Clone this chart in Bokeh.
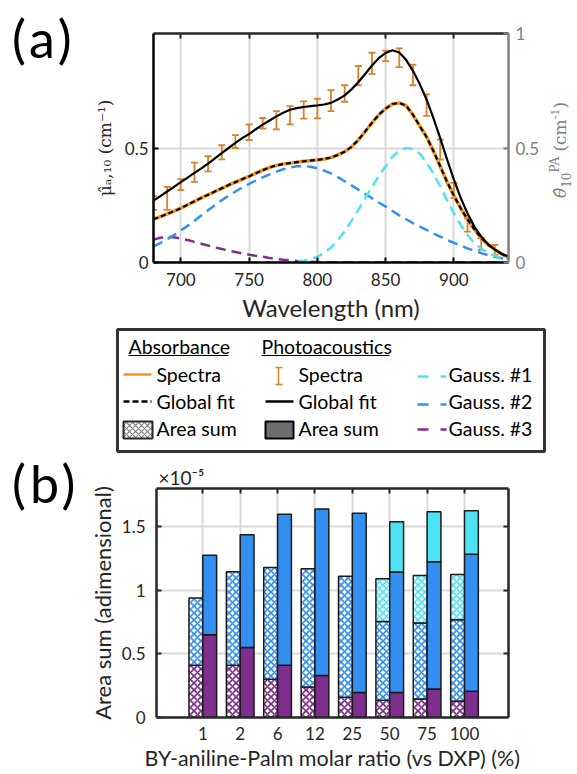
import numpy as np
from bokeh.plotting import figure
from bokeh.models import (Range1d, LinearAxis, FixedTicker, Whisker, ColumnDataSource, TeeHead,
                          Div, Title)
from bokeh.layouts import column, row
from bokeh.embed import file_html
from bokeh.resources import INLINE
from bokeh.core.properties import value

# ---------------- panel (a) data ----------------
wavelength = list(range(680, 945, 5))  # nm
pa_global_fit = [0.270, 0.290, 0.310, 0.330, 0.351, 0.371, 0.391, 0.411, 0.432, 0.455,
                 0.478, 0.500, 0.522, 0.543, 0.561, 0.582, 0.602, 0.620, 0.638, 0.654,
                 0.667, 0.674, 0.679, 0.683, 0.686, 0.690, 0.697, 0.712, 0.730, 0.756,
                 0.787, 0.823, 0.860, 0.892, 0.915, 0.927, 0.917, 0.885, 0.837, 0.779,
                 0.712, 0.630, 0.543, 0.450, 0.362, 0.282, 0.214, 0.157, 0.113, 0.080,
                 0.056, 0.038, 0.026]
abs_spectra = [0.189, 0.200, 0.212, 0.224, 0.237, 0.252, 0.267, 0.282, 0.296, 0.310,
               0.324, 0.338, 0.351, 0.364, 0.376, 0.390, 0.403, 0.415, 0.424, 0.430,
               0.434, 0.438, 0.442, 0.445, 0.448, 0.452, 0.458, 0.470, 0.484, 0.505,
               0.535, 0.572, 0.610, 0.645, 0.672, 0.692, 0.697, 0.685, 0.645, 0.596,
               0.548, 0.487, 0.420, 0.352, 0.292, 0.237, 0.188, 0.145, 0.108, 0.078,
               0.056, 0.037, 0.022]
abs_global_fit = list(abs_spectra)  # the fit overlays the spectrum within the line width
gauss1 = [0.0, 0.0, 0.0, 0.0, 0.0, 0.0, 0.0, 0.0, 0.0, 0.0,
          0.0, 0.0, 0.0, 0.0, 0.0, 0.0, 0.0, 0.0, 0.0, 0.001,
          0.002, 0.004, 0.008, 0.014, 0.025, 0.042, 0.065, 0.097, 0.136, 0.182,
          0.230, 0.280, 0.330, 0.378, 0.420, 0.462, 0.488, 0.500, 0.496, 0.476,
          0.437, 0.389, 0.332, 0.272, 0.215, 0.164, 0.120, 0.085, 0.060, 0.043,
          0.030, 0.020, 0.013]
gauss2 = [0.070, 0.085, 0.102, 0.120, 0.140, 0.160, 0.182, 0.205, 0.228, 0.250,
          0.272, 0.292, 0.310, 0.327, 0.343, 0.358, 0.372, 0.385, 0.397, 0.407,
          0.415, 0.420, 0.421, 0.418, 0.411, 0.401, 0.389, 0.373, 0.355, 0.337,
          0.318, 0.299, 0.281, 0.262, 0.244, 0.225, 0.206, 0.189, 0.172, 0.157,
          0.142, 0.127, 0.113, 0.098, 0.086, 0.074, 0.062, 0.051, 0.041, 0.032,
          0.025, 0.019, 0.014]
gauss3 = [0.100, 0.108, 0.112, 0.110, 0.105, 0.098, 0.090, 0.082, 0.074, 0.066,
          0.059, 0.052, 0.046, 0.040, 0.034, 0.029, 0.025, 0.020, 0.016, 0.012,
          0.009, 0.007, 0.005, 0.003, 0.002, 0.0, 0.0, 0.0, 0.0, 0.0,
          0.0, 0.0, 0.0, 0.0, 0.0, 0.0, 0.0, 0.0, 0.0, 0.0,
          0.0, 0.0, 0.0, 0.0, 0.0, 0.0, 0.0, 0.0, 0.0, 0.0,
          0.0, 0.0, 0.0]
pa_wavelength = list(range(680, 940, 10))
pa_mean = [0.260, 0.280, 0.340, 0.394, 0.431, 0.481, 0.528, 0.569, 0.608, 0.621,
           0.643, 0.666, 0.672, 0.707, 0.738, 0.816, 0.870, 0.902, 0.894, 0.819,
           0.687, 0.493, 0.315, 0.164, 0.081, 0.055]
pa_err = [0.030, 0.050, 0.024, 0.042, 0.033, 0.031, 0.028, 0.034, 0.023, 0.040,
          0.040, 0.038, 0.043, 0.046, 0.036, 0.042, 0.046, 0.023, 0.041, 0.045,
          0.047, 0.044, 0.033, 0.029, 0.026, 0.022]
x_ticks_a = [700, 750, 800, 850, 900]

# ---------------- panel (b) data (units of 1e-5) ----------------
ratios = ["1", "2", "6", "12", "25", "50", "75", "100"]
abs_g3 = [0.41, 0.41, 0.30, 0.24, 0.16, 0.135, 0.145, 0.13]
abs_g2 = [0.53, 0.735, 0.88, 0.93, 0.95, 0.62, 0.597, 0.638]
abs_g1 = [0.0, 0.0, 0.0, 0.0, 0.0, 0.335, 0.374, 0.356]
pa_g3 = [0.65, 0.55, 0.41, 0.33, 0.196, 0.196, 0.224, 0.206]
pa_g2 = [0.625, 0.886, 1.187, 1.309, 1.409, 0.947, 1.001, 1.077]
pa_g1 = [0.0, 0.0, 0.0, 0.0, 0.0, 0.396, 0.393, 0.342]

# ---------------- styles ----------------
C_ORANGE = "#F7931E"
C_ERR = "#D9822B"
C_CYAN = "#4DE3F5"
C_BLUE = "#3390F0"
C_PURPLE = "#7E2F8E"
C_DARK = "#262626"
C_GREY = "#808080"
C_GRID = "#D9D9D9"
FONT = "Lato"
TICK_FS = "17px"
DIV_L = 85
DIV_R = 35
FIG_W = 577 - DIV_L - DIV_R


def style_axis(ax, color, label_color=None, show_labels=True, standoff=5):
    ax.axis_line_color = color
    ax.axis_line_width = 2.5
    ax.major_tick_line_color = color
    ax.major_tick_line_width = 2
    ax.major_tick_in = 5
    ax.major_tick_out = 0
    ax.minor_tick_line_color = None
    ax.major_label_text_font = FONT
    if show_labels:
        ax.major_label_text_font_size = TICK_FS
        ax.major_label_text_color = label_color or C_DARK
        ax.major_label_standoff = standoff
    else:
        ax.major_label_text_font_size = "1px"
        ax.major_label_text_color = None
        ax.major_label_standoff = 0
    ax.axis_label_text_font = FONT
    ax.axis_label_text_font_style = "normal"
    ax.axis_label_text_color = C_DARK


def panel_div(txt, h, pad_top):
    return Div(text=('<div style="font-family:Lato,sans-serif;font-size:52px;line-height:52px;'
                     'letter-spacing:4px;color:#000;padding:%dpx 0 0 12px;margin:0;">%s</div>'
                     % (pad_top, txt)),
               width=DIV_L, height=h, margin=(0, 0, 0, 0))


def side_div(h, html=""):
    return Div(text=('<div style="position:relative;width:%dpx;height:%dpx;margin:0;padding:0;">%s</div>'
                     % (DIV_R, h, html)),
               width=DIV_R, height=h, margin=(0, 0, 0, 0))


# ---------------- panel (a) ----------------
p1 = figure(width=FIG_W, height=326, x_range=Range1d(680, 940), y_range=Range1d(0, 1),
            output_backend="svg", toolbar_location=None, title=None,
            min_border_left=68, min_border_right=34, min_border_top=33, min_border_bottom=64)
p1.extra_y_ranges = {"pa": Range1d(0, 1)}
p1.outline_line_color = None
p1.xgrid.ticker = FixedTicker(ticks=x_ticks_a)
p1.ygrid.ticker = FixedTicker(ticks=[0.5])
p1.grid.grid_line_color = C_GRID
p1.grid.grid_line_width = 2

xb = p1.below[0]
xb.ticker = FixedTicker(ticks=x_ticks_a)
style_axis(xb, "black", standoff=10)
xb.axis_label = "Wavelength (nm)"
xb.axis_label_text_font_size = "24px"
xb.axis_label_standoff = 4

yl = p1.left[0]
yl.ticker = FixedTicker(ticks=[0, 0.5])
yl.major_label_overrides = {0: "0", 0.5: "0.5"}
style_axis(yl, "black", standoff=5)
yl.axis_label = "μ̂ₐ,₁₀ (cm⁻¹)"
yl.axis_label_text_font = "DejaVu Serif"
yl.axis_label_text_font_size = "17px"
yl.axis_label_standoff = 7

top_a = LinearAxis(ticker=FixedTicker(ticks=x_ticks_a))
style_axis(top_a, C_DARK, show_labels=False)
p1.add_layout(top_a, "above")

yr = LinearAxis(y_range_name="pa", ticker=FixedTicker(ticks=[0, 0.5, 1]))
yr.major_label_overrides = {0: "0", 0.5: "0.5", 1: "1"}
style_axis(yr, C_GREY, label_color=C_GREY, standoff=7)
p1.add_layout(yr, "right")

# Gaussian components
p1.line(wavelength, gauss3, line_color=C_PURPLE, line_width=2.5, line_dash="10 6")
p1.line(wavelength, gauss2, line_color=C_BLUE, line_width=2.5, line_dash="10 6")
p1.line(wavelength, gauss1, line_color=C_CYAN, line_width=2.5, line_dash="10 6")
# absorbance spectrum + global fit
p1.line(wavelength, abs_spectra, line_color=C_ORANGE, line_width=3.5)
p1.line(wavelength, abs_global_fit, line_color="black", line_width=2.2, line_dash="5 3")
# photoacoustic spectrum with error bars + global fit
src_pa = ColumnDataSource(dict(x=pa_wavelength,
                               upper=[m + e for m, e in zip(pa_mean, pa_err)],
                               lower=[m - e for m, e in zip(pa_mean, pa_err)]))
wh = Whisker(source=src_pa, base="x", upper="upper", lower="lower", y_range_name="pa",
             line_color=C_ERR, line_width=1.8,
             upper_head=TeeHead(size=7, line_color=C_ERR, line_width=1.8),
             lower_head=TeeHead(size=7, line_color=C_ERR, line_width=1.8))
p1.add_layout(wh)
p1.line(wavelength, pa_global_fit, line_color="black", line_width=2.2, y_range_name="pa")

right_label_html = (
    '<div style="position:absolute;left:19px;top:150px;'
    'transform:translate(-50%,-50%) rotate(-90deg);white-space:nowrap;'
    "font-family:'DejaVu Serif',serif;font-size:17px;line-height:20px;color:#808080;\">"
    '<i>θ̂</i><sub style="font-size:12px;">10</sub><sup style="font-size:12px;">PA</sup>'
    ' (cm<sup style="font-size:11px;">-1</sup>)</div>')

# ---------------- legend (page pixel coordinates) ----------------
pl = figure(width=577, height=129, x_range=Range1d(0, 577), y_range=Range1d(455, 326),
            output_backend="svg", toolbar_location=None, title=None, min_border=0,
            x_axis_type=None, y_axis_type=None)
pl.outline_line_color = None
pl.grid.visible = False
LEG_FS = "19.5px"
pl.quad(left=117, right=544, top=329, bottom=451, fill_color="white",
        line_color="#333333", line_width=3)
pl.text(x=[128, 261], y=[346, 346], text=["Absorbance", "Photoacoustics"],
        text_font=value(FONT), text_font_size=LEG_FS, text_baseline="middle",
        text_color="black")
pl.segment(x0=[128, 261], y0=[355, 355], x1=[228, 389], y1=[355, 355],
           line_color="black", line_width=1)
row_y = [374, 401, 428]
pl.text(x=[156, 156, 156, 298, 298, 298, 448, 448, 448],
        y=row_y * 3,
        text=["Spectra", "Global fit", "Area sum", "Spectra", "Global fit", "Area sum",
              "Gauss. #1", "Gauss. #2", "Gauss. #3"],
        text_font=value(FONT), text_font_size=LEG_FS, text_baseline="middle",
        text_color="black")
pl.segment(x0=123, y0=row_y[0], x1=151, y1=row_y[0], line_color=C_ORANGE, line_width=2.5)
pl.segment(x0=123, y0=row_y[1], x1=151, y1=row_y[1], line_color="black", line_width=2.5,
           line_dash="6 3")
pl.segment(x0=[278, 275, 275], y0=[367, 367, 384], x1=[278, 282, 282], y1=[384, 367, 384],
           line_color=C_ERR, line_width=1.5)
pl.segment(x0=265, y0=row_y[1], x1=293, y1=row_y[1], line_color="black", line_width=2.5)
pl.quad(left=123, right=152, top=421, bottom=438, fill_color="white",
        hatch_pattern="diagonal_cross", hatch_color="#7F7F7F", hatch_scale=6, hatch_weight=1.2,
        line_color=C_DARK, line_width=2)
pl.quad(left=265, right=293, top=421, bottom=438, fill_color="#6E6E6E",
        line_color="black", line_width=2)
for yy, cc in zip([376, 404, 429], [C_CYAN, C_BLUE, C_PURPLE]):
    pl.segment(x0=[417, 440], y0=[yy, yy], x1=[428, 446], y1=[yy, yy],
               line_color=cc, line_width=2.5)

# ---------------- panel (b) ----------------
p2 = figure(width=FIG_W, height=319, x_range=Range1d(-0.239, 9.177), y_range=Range1d(0, 1.8),
            output_backend="svg", toolbar_location=None, title=None,
            min_border_left=68, min_border_right=34, min_border_top=33, min_border_bottom=57)
p2.outline_line_color = None
pos = list(range(1, len(ratios) + 1))
p2.xgrid.ticker = FixedTicker(ticks=pos)
p2.ygrid.ticker = FixedTicker(ticks=[0.5, 1, 1.5])
p2.grid.grid_line_color = C_GRID
p2.grid.grid_line_width = 2

xb2 = p2.below[0]
xb2.ticker = FixedTicker(ticks=pos)
xb2.major_label_overrides = {p: r for p, r in zip(pos, ratios)}
style_axis(xb2, C_DARK, standoff=9)
xb2.axis_label = "BY-aniline-Palm molar ratio (vs DXP) (%)"
xb2.axis_label_text_font_size = "21.5px"
xb2.axis_label_standoff = 2

yl2 = p2.left[0]
yl2.ticker = FixedTicker(ticks=[0, 0.5, 1, 1.5])
yl2.major_label_overrides = {0: "0", 0.5: "0.5", 1: "1", 1.5: "1.5"}
style_axis(yl2, C_DARK, standoff=11)
yl2.axis_label = "Area sum (adimensional)"
yl2.axis_label_text_font_size = "22px"
yl2.axis_label_standoff = 3

top_b = LinearAxis(ticker=FixedTicker(ticks=pos))
style_axis(top_b, C_DARK, show_labels=False)
p2.add_layout(top_b, "above")
right_b = LinearAxis(ticker=FixedTicker(ticks=[0.5, 1, 1.5]))
style_axis(right_b, C_DARK, show_labels=False)
p2.add_layout(right_b, "right")
p2.add_layout(Title(text="×10⁻⁵", align="left", offset=2, standoff=0, text_font=FONT,
                    text_font_size="19px", text_font_style="normal", text_color=C_DARK),
              "above")

bw = 0.37


def stacked(xs, comps, colors, hatched):
    base = [0.0] * len(xs)
    for comp, col in zip(comps, colors):
        keep = [i for i, v in enumerate(comp) if v > 0]
        src = ColumnDataSource(dict(x=[xs[i] for i in keep],
                                    bottom=[base[i] for i in keep],
                                    top=[base[i] + comp[i] for i in keep]))
        if hatched:
            p2.vbar(x="x", bottom="bottom", top="top", width=bw, source=src,
                    fill_color="white", hatch_pattern="diagonal_cross", hatch_color=col,
                    hatch_scale=7, hatch_weight=1.6, line_color="#1A1A1A", line_width=1.5)
        else:
            p2.vbar(x="x", bottom="bottom", top="top", width=bw, source=src,
                    fill_color=col, line_color="#1A1A1A", line_width=1.5)
        base = [b + v for b, v in zip(base, comp)]


stacked([p - bw / 2 for p in pos], [abs_g3, abs_g2, abs_g1], [C_PURPLE, C_BLUE, C_CYAN], True)
stacked([p + bw / 2 for p in pos], [pa_g3, pa_g2, pa_g1], [C_PURPLE, C_BLUE, C_CYAN], False)

layout = column(row(panel_div("(a)", 326, 12), p1, side_div(326, right_label_html), spacing=0),
                pl,
                row(panel_div("(b)", 319, 2), p2, side_div(319), spacing=0),
                spacing=0)
open("out.html", "w").write(file_html(layout, INLINE))
